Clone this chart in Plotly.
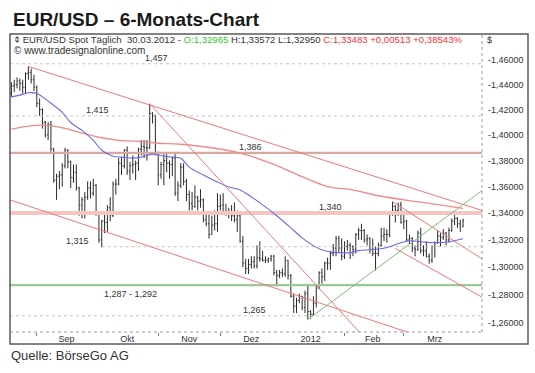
import math
import pandas as pd
import plotly.graph_objects as go

# ---------------- data ----------------
dates = pd.bdate_range("2011-08-19", "2012-03-30")

open_ = [
    # Aug
    1.4330, 1.4390, 1.4400, 1.4430, 1.4410, 1.4380, 1.4490, 1.4500, 1.4440,
    # Sep
    1.4380, 1.4250, 1.4200, 1.4100, 1.4000, 1.4080, 1.3890, 1.3650, 1.3680, 1.3690, 1.3760,
    1.3880, 1.3790, 1.3670, 1.3710, 1.3590, 1.3460, 1.3500, 1.3520, 1.3590, 1.3550, 1.3610,
    # Oct
    1.3390, 1.3200, 1.3340, 1.3330, 1.3440, 1.3380, 1.3620, 1.3620, 1.3780, 1.3760, 1.3880,
    1.3720, 1.3760, 1.3770, 1.3780, 1.3890, 1.3910, 1.3900, 1.3900, 1.4170, 1.4150,
    # Nov
    1.3860, 1.3690, 1.3770, 1.3800, 1.3780, 1.3770, 1.3820, 1.3550, 1.3610, 1.3750, 1.3640,
    1.3540, 1.3470, 1.3450, 1.3520, 1.3490, 1.3500, 1.3350, 1.3320, 1.3240, 1.3310, 1.3320,
    # Dec
    1.3450, 1.3460, 1.3390, 1.3400, 1.3390, 1.3380, 1.3350, 1.3380, 1.3190, 1.3030, 1.2990,
    1.3020, 1.3040, 1.3010, 1.3070, 1.3060, 1.3050, 1.3050, 1.3060, 1.3080, 1.2960, 1.2940,
    # Jan
    1.2960, 1.2950, 1.3050, 1.2940, 1.2790, 1.2720, 1.2760, 1.2790, 1.2710, 1.2810, 1.2680,
    1.2660, 1.2740, 1.2850, 1.2960, 1.2930, 1.3030, 1.3030, 1.3100, 1.3140, 1.3210, 1.3140,
    # Feb
    1.3080, 1.3150, 1.3160, 1.3150, 1.3130, 1.3240, 1.3270, 1.3270, 1.3200, 1.3210, 1.3130,
    1.3100, 1.3100, 1.3160, 1.3230, 1.3240, 1.3240, 1.3390, 1.3450, 1.3420, 1.3460,
    # Mar
    1.3330, 1.3340, 1.3200, 1.3210, 1.3140, 1.3130, 1.3250, 1.3120, 1.3120, 1.3080, 1.3050,
    1.3150, 1.3180, 1.3230, 1.3220, 1.3250, 1.3200, 1.3270, 1.3340, 1.3360, 1.3320, 1.32965,
]
high = [
    1.4420, 1.4440, 1.4460, 1.4450, 1.4440, 1.4500, 1.4548, 1.4530, 1.4480,
    1.4395, 1.4290, 1.4210, 1.4110, 1.4100, 1.4110, 1.3900, 1.3700, 1.3720, 1.3780, 1.3900,
    1.3890, 1.3800, 1.3770, 1.3770, 1.3600, 1.3520, 1.3560, 1.3640, 1.3640, 1.3660, 1.3620,
    1.3400, 1.3350, 1.3390, 1.3460, 1.3520, 1.3640, 1.3660, 1.3820, 1.3830, 1.3890, 1.3910,
    1.3790, 1.3840, 1.3800, 1.3900, 1.3960, 1.3960, 1.3960, 1.4247, 1.4180, 1.4160,
    1.3870, 1.3790, 1.3850, 1.3850, 1.3800, 1.3830, 1.3850, 1.3640, 1.3780, 1.3780, 1.3660,
    1.3570, 1.3560, 1.3610, 1.3530, 1.3580, 1.3510, 1.3390, 1.3390, 1.3380, 1.3420, 1.3550,
    1.3540, 1.3550, 1.3470, 1.3440, 1.3460, 1.3480, 1.3420, 1.3390, 1.3230, 1.3060, 1.3060,
    1.3080, 1.3080, 1.3160, 1.3190, 1.3120, 1.3080, 1.3070, 1.3090, 1.3090, 1.2980, 1.2980,
    1.2990, 1.3080, 1.3050, 1.2950, 1.2810, 1.2780, 1.2810, 1.2790, 1.2830, 1.2880, 1.2690,
    1.2790, 1.2870, 1.2970, 1.2990, 1.3040, 1.3070, 1.3120, 1.3170, 1.3230, 1.3230, 1.3210,
    1.3190, 1.3200, 1.3180, 1.3160, 1.3250, 1.3290, 1.3320, 1.3280, 1.3240, 1.3220, 1.3210,
    1.3150, 1.3180, 1.3290, 1.3290, 1.3280, 1.3400, 1.3486, 1.3460, 1.3480, 1.3486,
    1.3390, 1.3350, 1.3240, 1.3220, 1.3160, 1.3270, 1.3290, 1.3160, 1.3190, 1.3100, 1.3160,
    1.3190, 1.3270, 1.3250, 1.3280, 1.3260, 1.3290, 1.3360, 1.3385, 1.3370, 1.3350, 1.33572,
]
low = [
    1.4300, 1.4340, 1.4370, 1.4350, 1.4330, 1.4330, 1.4440, 1.4410, 1.4350,
    1.4220, 1.4150, 1.4050, 1.3980, 1.3960, 1.3870, 1.3630, 1.3500, 1.3580, 1.3600, 1.3740,
    1.3740, 1.3590, 1.3630, 1.3570, 1.3380, 1.3360, 1.3360, 1.3500, 1.3510, 1.3530, 1.3380,
    1.3180, 1.3145, 1.3250, 1.3260, 1.3340, 1.3370, 1.3540, 1.3610, 1.3690, 1.3740, 1.3690,
    1.3650, 1.3700, 1.3650, 1.3720, 1.3840, 1.3820, 1.3800, 1.3890, 1.4090, 1.3840,
    1.3610, 1.3660, 1.3610, 1.3710, 1.3660, 1.3680, 1.3530, 1.3490, 1.3590, 1.3610, 1.3490,
    1.3420, 1.3420, 1.3440, 1.3420, 1.3440, 1.3330, 1.3300, 1.3210, 1.3240, 1.3270, 1.3260,
    1.3420, 1.3390, 1.3380, 1.3360, 1.3340, 1.3330, 1.3260, 1.3180, 1.3000, 1.2950, 1.2950,
    1.2990, 1.2990, 1.2990, 1.3040, 1.3040, 1.3030, 1.3030, 1.3040, 1.2940, 1.2860, 1.2920,
    1.2930, 1.2930, 1.2910, 1.2780, 1.2670, 1.2670, 1.2740, 1.2690, 1.2670, 1.2624, 1.2630,
    1.2650, 1.2710, 1.2840, 1.2880, 1.2900, 1.2980, 1.2980, 1.3080, 1.3080, 1.3110, 1.3050,
    1.3060, 1.3120, 1.3060, 1.3080, 1.3100, 1.3200, 1.3200, 1.3180, 1.3160, 1.3100, 1.3080,
    1.2975, 1.3080, 1.3150, 1.3190, 1.3180, 1.3220, 1.3380, 1.3330, 1.3380, 1.3320,
    1.3280, 1.3190, 1.3170, 1.3110, 1.3080, 1.3120, 1.3100, 1.3080, 1.3070, 1.3025, 1.3030,
    1.3070, 1.3170, 1.3150, 1.3200, 1.3160, 1.3180, 1.3260, 1.3310, 1.3290, 1.3260, 1.32950,
]
close = [
    1.4390, 1.4400, 1.4430, 1.4410, 1.4380, 1.4490, 1.4500, 1.4440, 1.4380,
    1.4250, 1.4200, 1.4100, 1.4000, 1.4080, 1.3890, 1.3650, 1.3680, 1.3690, 1.3760, 1.3880,
    1.3790, 1.3670, 1.3710, 1.3590, 1.3460, 1.3500, 1.3520, 1.3590, 1.3550, 1.3610, 1.3390,
    1.3200, 1.3340, 1.3330, 1.3440, 1.3380, 1.3620, 1.3620, 1.3780, 1.3760, 1.3880, 1.3720,
    1.3760, 1.3770, 1.3780, 1.3890, 1.3910, 1.3900, 1.3900, 1.4170, 1.4150, 1.3860,
    1.3690, 1.3770, 1.3800, 1.3780, 1.3770, 1.3820, 1.3550, 1.3610, 1.3750, 1.3640, 1.3540,
    1.3470, 1.3450, 1.3520, 1.3490, 1.3500, 1.3350, 1.3320, 1.3240, 1.3310, 1.3320, 1.3450,
    1.3460, 1.3390, 1.3400, 1.3390, 1.3380, 1.3350, 1.3380, 1.3190, 1.3030, 1.2990, 1.3020,
    1.3040, 1.3010, 1.3070, 1.3060, 1.3050, 1.3050, 1.3060, 1.3080, 1.2960, 1.2940, 1.2960,
    1.2950, 1.3050, 1.2940, 1.2790, 1.2720, 1.2760, 1.2790, 1.2710, 1.2810, 1.2680, 1.2660,
    1.2740, 1.2850, 1.2960, 1.2930, 1.3030, 1.3030, 1.3100, 1.3140, 1.3210, 1.3140, 1.3080,
    1.3150, 1.3160, 1.3150, 1.3130, 1.3240, 1.3270, 1.3270, 1.3200, 1.3210, 1.3130, 1.3100,
    1.3100, 1.3160, 1.3230, 1.3240, 1.3240, 1.3390, 1.3450, 1.3420, 1.3460, 1.3330,
    1.3340, 1.3200, 1.3210, 1.3140, 1.3130, 1.3250, 1.3120, 1.3120, 1.3080, 1.3050, 1.3150,
    1.3180, 1.3230, 1.3220, 1.3250, 1.3200, 1.3270, 1.3340, 1.3360, 1.3320, 1.3310, 1.33483,
]

# blue moving average (at selected bars)
ma_fast_idx = [0, 3, 6, 9, 11, 14, 18, 21, 25, 29, 32, 36, 39, 43, 46, 50, 54, 57, 60, 63,
               68, 73, 77, 81, 85, 89, 94, 99, 103, 108, 112, 116, 120, 123, 127, 131, 134,
               138, 141, 145, 150, 155, 160]
ma_fast = [1.4302, 1.4316, 1.4335, 1.4330, 1.4302, 1.4251, 1.4178, 1.4098, 1.4036, 1.3958,
           1.3880, 1.3834, 1.3827, 1.3819, 1.3827, 1.3850, 1.3834, 1.3827, 1.3819, 1.3750,
           1.3689, 1.3635, 1.3597, 1.3575, 1.3522, 1.3462, 1.3380, 1.3290, 1.3215, 1.3145,
           1.3114, 1.3106, 1.3106, 1.3121, 1.3128, 1.3135, 1.3150, 1.3179, 1.3194, 1.3187,
           1.3179, 1.3187, 1.3209]

# red moving average
ma_slow_idx = [0, 6, 11, 17, 24, 31, 38, 45, 52, 60, 80, 92, 103, 112, 120, 131, 145, 160]
ma_slow = [1.4045, 1.4069, 1.4077, 1.4061, 1.4021, 1.3982, 1.3958, 1.3950, 1.3935, 1.3927,
           1.3864, 1.3779, 1.3676, 1.3601, 1.3579, 1.3527, 1.3482, 1.3436]

# trend lines: (dates, prices) of the two anchor points
trend_red_dates = [
    ["2011-08-29", "2012-04-10"],
    ["2011-10-27", "2012-02-09"],
    ["2011-08-18", "2012-03-05"],
    ["2012-02-24", "2012-04-10"],
    ["2012-02-27", "2012-04-10"],
]
trend_red_prices = [
    [1.4548, 1.3418],
    [1.4247, 1.2520],
    [1.3503, 1.2530],
    [1.3486, 1.3057],
    [1.3137, 1.2780],
]
trend_green_dates = ["2012-01-13", "2012-04-10"]
trend_green_prices = [1.2624, 1.3575]

# horizontal levels
level_gray = [1.457, 1.415, 1.265]
level_1315_start = "2011-10-04"
level_1315 = 1.315
level_1386 = 1.386
level_1340 = 1.340
level_1287 = 1.287

level_labels = ["1,457", "1,415", "1,386", "1,340", "1,315", "1,287 - 1,292", "1,265"]
level_label_values = [1.457, 1.415, 1.386, 1.340, 1.315, 1.287, 1.265]

month_starts = ["2011-09-01", "2011-10-01", "2011-11-01", "2011-12-01",
                "2012-01-01", "2012-02-01", "2012-03-01"]
month_mids = ["2011-09-15 12:00", "2011-10-17", "2011-11-16", "2011-12-16",
              "2012-01-16", "2012-02-15", "2012-03-16"]
month_labels = ["Sep", "Okt", "Nov", "Dez", "2012", "Feb", "Mrz"]

y_ticks = [1.26, 1.28, 1.30, 1.32, 1.34, 1.36, 1.38, 1.40, 1.42, 1.44, 1.46]
y_ticktext = ["-1,26000", "-1,28000", "-1,30000", "-1,32000", "-1,34000", "-1,36000",
              "-1,38000", "-1,40000", "-1,42000", "-1,44000", "-1,46000"]

# ---------------- figure ----------------
X0 = "2011-08-18 12:00"
X1 = "2012-04-09 17:00"
FONT = "Liberation Sans, Arial, sans-serif"

fig = go.Figure()

def hline(y, color, width, dash="solid", x0=X0):
    fig.add_trace(go.Scatter(x=[x0, X1], y=[y, y], mode="lines",
                             line=dict(color=color, width=width, dash=dash),
                             hoverinfo="skip", showlegend=False))

for lv in level_gray:
    hline(lv, "#c4c4c4", 1, "dot")
hline(level_1315, "#c4c4c4", 1, "dot", x0=level_1315_start)
hline(level_1386, "#d9a99e", 2.2)
hline(level_1340, "#f7c4c4", 4)
hline(level_1287, "#9cc79a", 2.4)

for d, p in zip(trend_red_dates, trend_red_prices):
    fig.add_trace(go.Scatter(x=d, y=p, mode="lines", line=dict(color="#f07878", width=1),
                             hoverinfo="skip", showlegend=False))
fig.add_trace(go.Scatter(x=trend_green_dates, y=trend_green_prices, mode="lines",
                         line=dict(color="#7cc07c", width=1), hoverinfo="skip", showlegend=False))

fig.add_trace(go.Scatter(x=[dates[i] for i in ma_slow_idx], y=ma_slow, mode="lines",
                         line=dict(color="#f08a8a", width=1.3, shape="spline", smoothing=1.0),
                         hoverinfo="skip", showlegend=False))
fig.add_trace(go.Scatter(x=[dates[i] for i in ma_fast_idx], y=ma_fast, mode="lines",
                         line=dict(color="#6a6af0", width=1.1, shape="spline"),
                         hoverinfo="skip", showlegend=False))

fig.add_trace(go.Ohlc(x=dates, open=open_, high=high, low=low, close=close,
                      increasing=dict(line=dict(color="#2a2a2a", width=1)),
                      decreasing=dict(line=dict(color="#2a2a2a", width=1)),
                      tickwidth=0.35, hoverinfo="skip", showlegend=False))

# frame and borders (paper coords)
PL, PR, PT, PB = 10, 482, 34, 332
PW, PH = float(PR - PL), float(PB - PT)
def px(xp):
    return (xp - PL) / PW
def py(yp):
    return (PB - yp) / PH

shapes = [
    dict(type="rect", xref="paper", yref="paper", x0=px(10), x1=px(528), y0=py(344), y1=py(34),
         line=dict(color="#5a5a5a", width=1.5)),
    dict(type="line", xref="paper", yref="paper", x0=1, x1=1, y0=0, y1=1,
         line=dict(color="#9a9a9a", width=1, dash="dot")),
    dict(type="line", xref="paper", yref="paper", x0=0, x1=1, y0=0, y1=0,
         line=dict(color="#9a9a9a", width=1, dash="dot")),
]

ann = []
ann.append(dict(text="<b>EUR/USD – 6-Monats-Chart</b>", xref="paper", yref="paper",
                x=px(11), y=py(20), xanchor="left", yanchor="middle", showarrow=False,
                font=dict(family=FONT, size=19, color="#1a1a1a")))
ann.append(dict(text="Quelle: BörseGo AG", xref="paper", yref="paper",
                x=px(9), y=py(355), xanchor="left", yanchor="middle", showarrow=False,
                font=dict(family=FONT, size=13, color="#333333")))
header = ("⌽ EUR/USD Spot Täglich\u00a0\u00a030.03.2012 - "
          "<span style='color:#2ecc2e'>O:1,32965</span> H:1,33572 L:1,32950 "
          "<span style='color:#ff3030'>C:1,33483 +0,00513 +0,38543%</span>")
ann.append(dict(text=header, xref="paper", yref="paper", x=px(12), y=py(40),
                xanchor="left", yanchor="middle", showarrow=False,
                font=dict(family=FONT, size=9.6, color="#333333")))
ann.append(dict(text="© www.tradesignalonline.com", xref="paper", yref="paper", x=px(12),
                y=py(50), xanchor="left", yanchor="middle", showarrow=False,
                font=dict(family=FONT, size=10, color="#333333")))
ann.append(dict(text="$", xref="paper", yref="paper", x=px(485), y=py(40),
                xanchor="left", yanchor="middle", showarrow=False,
                font=dict(family=FONT, size=9, color="#333333")))

label_x = [156, 97, 250, 330, 77, 130, 255]
for t, v, lx in zip(level_labels, level_label_values, label_x):
    below = t.startswith("1,287")
    ann.append(dict(text=t, xref="paper", yref="y", x=px(lx), y=math.log10(v),
                    xanchor="center", yanchor="top" if below else "bottom",
                    yshift=-2 if below else -1, showarrow=False,
                    font=dict(family=FONT, size=9, color="#333333")))

fig.update_layout(
    width=535, height=373,
    margin=dict(l=PL, r=535 - PR, t=PT, b=373 - PB),
    paper_bgcolor="white", plot_bgcolor="white",
    showlegend=False,
    shapes=shapes, annotations=ann,
    font=dict(family=FONT, size=9, color="#333333"),
    xaxis=dict(
        type="date", range=[X0, X1],
        rangebreaks=[dict(bounds=["sat", "mon"])],
        rangeslider=dict(visible=False),
        tickmode="array", tickvals=month_mids, ticktext=month_labels, ticks="",
        minor=dict(tickmode="array", tickvals=month_starts, ticks="outside", ticklen=3,
                   tickcolor="#777777", showgrid=False),
        showgrid=False, zeroline=False, showline=False,
        tickfont=dict(family=FONT, size=9, color="#333333"),
    ),
    yaxis=dict(
        type="log", side="right",
        range=[math.log10(1.2536), math.log10(1.4815)],
        tickmode="array", tickvals=y_ticks, ticktext=y_ticktext,
        ticks="", ticklabelstandoff=5,
        showgrid=False, zeroline=False, showline=False,
        tickfont=dict(family=FONT, size=9, color="#333333"),
    ),
)

fig.write_html("out.html", config={"displayModeBar": False})

# remove the browser's default page margin so the figure sits at the window origin
with open("out.html", "r", encoding="utf-8") as f:
    html = f.read()
html = html.replace("<body>", '<body style="margin:0;padding:0">', 1)
with open("out.html", "w", encoding="utf-8") as f:
    f.write(html)
